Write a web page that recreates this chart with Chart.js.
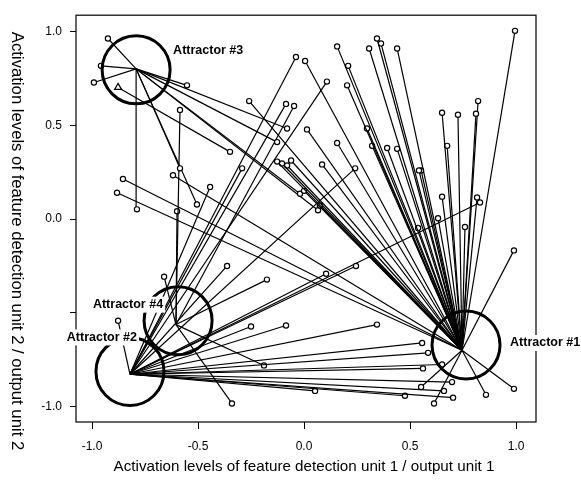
<!DOCTYPE html>
<html>
<head>
<meta charset="utf-8">
<script src="https://cdn.jsdelivr.net/npm/chart.js@4"></script>
<style>
  body { margin: 0; background: #fff; }
  #wrap { width: 581px; height: 487px; }
</style>
</head>
<body>
<div id="wrap"><canvas id="myChart" width="581" height="487"></canvas></div>
<script>
// tick values and labels
var xTicks = [-1, -0.5, 0, 0.5, 1];
var xTickLabels = ["-1.0", "-0.5", "0.0", "0.5", "1.0"];
var yTicks = [-1, -0.5, 0, 0.5, 1];
var yTickLabels = ["-1.0", "", "0.0", "0.5", "1.0"];

// attractors (#1..#4): end point of the trajectories and circle centre
var attractorNames = ["Attractor #1", "Attractor #2", "Attractor #3", "Attractor #4"];
var attractorX = [0.745, -0.821, -0.792, -0.604];
var attractorY = [-0.70, -0.828, 0.802, -0.563];
var circleX = [0.764, -0.821, -0.792, -0.594];
var circleY = [-0.672, -0.813, 0.797, -0.542];

// start points of the trajectories, per attractor
var startsA1 = [
    [0.005, 0.844], [0.156, 0.922], [0.208, 0.818], [0.203, 0.714], [0.307, 0.911],
    [0.344, 0.964], [0.363, 0.938], [0.439, 0.911], [0.995, 1.005], [0.651, 0.568],
    [0.726, 0.557], [0.811, 0.563], [0.821, 0.630], [0.675, 0.391],
    [0.014, 0.479], [0.156, 0.406], [0.297, 0.484], [0.321, 0.391], [0.392, 0.380],
    [0.439, 0.375], [0.542, 0.260], [0.552, 0.260], [-0.127, 0.307], [-0.104, 0.297],
    [-0.080, 0.286], [-0.061, 0.313], [0.085, 0.292], [0.0, 0.151], [0.075, 0.073],
    [0.651, 0.120], [0.816, 0.115], [0.632, 0.005], [0.759, -0.042], [0.99, -0.167],
    [0.538, -0.047], [-0.259, 0.630], [-0.854, 0.214], [-0.882, 0.141], [-0.618, 0.234],
    [0.552, -0.896], [0.613, -0.984], [0.858, -0.938], [0.99, -0.906]
];
var startsA2 = [
    [-0.038, 0.865], [0.108, 0.734], [-0.085, 0.615], [-0.292, 0.271], [0.241, 0.271],
    [-0.443, 0.172], [-0.363, -0.25], [0.104, -0.292], [0.245, -0.25], [0.830, 0.089],
    [-0.25, -0.573], [-0.085, -0.568], [0.344, -0.563], [0.557, -0.661], [0.585, -0.714],
    [0.561, -0.797], [0.651, -0.776], [0.698, -0.870], [0.660, -0.917], [0.703, -0.953],
    [0.476, -0.943], [0.052, -0.917], [-0.877, -0.542]
];
var startsA3 = [
    [-0.925, 0.964], [-0.958, 0.818], [-0.991, 0.729], [-0.552, 0.714], [-0.080, 0.484],
    [-0.127, 0.411], [-0.788, 0.052], [-0.585, 0.271], [-0.505, 0.078], [-0.019, 0.135],
    [0.066, 0.047]
];
var startsA4 = [
    [-0.585, 0.583], [-0.599, 0.042], [-0.660, -0.307], [-0.189, -0.781], [-0.340, -0.984],
    [-0.175, -0.323], [-0.047, 0.604]
];
var triangleX = -0.877, triangleY = 0.703;
var triangleStart = [-0.349, 0.359];

var allStarts = [startsA1, startsA2, startsA3, startsA4];

var datasets = [];

// attractor circles
datasets.push({
    data: circleX.map(function(x, i) { return {x: x, y: circleY[i]}; }),
    showLine: false,
    pointRadius: 34,
    pointBorderWidth: 3,
    pointBorderColor: "#000",
    pointBackgroundColor: "rgba(0,0,0,0)"
});

// trajectories
var $each = function(arr, fn) { for (var i = 0; i < arr.length; i++) fn(i, arr[i]); };
$each(allStarts, function(a, starts) {
    $each(starts, function(i, p) {
        datasets.push({
            data: [{x: p[0], y: p[1]}, {x: attractorX[a], y: attractorY[a]}],
            showLine: true,
            borderColor: "#000",
            borderWidth: 1.2,
            pointRadius: [2.6, 0],
            pointBorderWidth: 1.2,
            pointBorderColor: "#000",
            pointBackgroundColor: "#fff"
        });
    });
});

datasets.push({
    data: [{x: triangleStart[0], y: triangleStart[1]}, {x: triangleX, y: triangleY}],
    showLine: true,
    borderColor: "#000",
    borderWidth: 1.2,
    pointStyle: ["circle", "triangle"],
    pointRadius: [2.6, 4],
    pointBorderWidth: 1.2,
    pointBorderColor: "#000",
    pointBackgroundColor: "#fff"
});

var decor = {
    id: "decor",
    afterDraw: function(chart) {
        var ctx = chart.ctx, a = chart.chartArea;
        var xs = chart.scales.x, ys = chart.scales.y;
        ctx.save();
        ctx.strokeStyle = "#000";
        ctx.lineWidth = 1.2;
        ctx.strokeRect(a.left, a.top, a.right - a.left, a.bottom - a.top);

        // attractor labels
        ctx.font = "bold 12.5px 'Liberation Sans', Arial, sans-serif";
        ctx.textBaseline = "middle";
        var offs = [[44, -2, "left"], [7, -34, "right"], [37, -19, "left"], [-15, -16, "right"]];
        $each(attractorNames, function(i, name) {
            var px = xs.getPixelForValue(circleX[i]) + offs[i][0];
            var py = ys.getPixelForValue(circleY[i]) + offs[i][1];
            var w = ctx.measureText(name).width;
            var lx = offs[i][2] == "left" ? px : px - w;
            ctx.fillStyle = "#fff";
            ctx.fillRect(lx - 2, py - 8, w + 4, 16);
            ctx.fillStyle = "#000";
            ctx.textAlign = offs[i][2];
            ctx.fillText(name, px, py);
        });

        // axis titles
        ctx.font = "15.2px 'Liberation Sans', Arial, sans-serif";
        ctx.textAlign = "center";
        ctx.fillText("Activation levels of feature detection unit 1 / output unit 1", 304, 467);
        ctx.translate(17, 241);
        ctx.rotate(Math.PI / 2);
        ctx.font = "16.7px 'Liberation Sans', Arial, sans-serif";
        ctx.fillText("Activation levels of feature detection unit 2 / output unit 2", 0, 0);
        ctx.restore();
    }
};

var ctx = document.getElementById("myChart");
var myChart = new Chart(ctx, {
    type: "scatter",
    data: { datasets: datasets },
    options: {
        responsive: false,
        animation: false,
        devicePixelRatio: 1,
        layout: { autoPadding: false, padding: { top: 5, right: 45, left: 0, bottom: 0 } },
        plugins: { legend: { display: false }, tooltip: { enabled: false } },
        scales: {
            x: {
                type: "linear",
                min: -1.0755,
                max: 1.094,
                afterBuildTicks: function(s) { s.ticks = xTicks.map(function(v) { return {value: v}; }); },
                afterFit: function(s) { s.height = 65; },
                ticks: {
                    callback: function(v, i) { return xTickLabels[i]; },
                    color: "#000",
                    padding: 10,
                    maxRotation: 0,
                    font: { size: 12, family: "'Liberation Sans', Arial, sans-serif" }
                },
                grid: { drawOnChartArea: false, tickLength: 7, color: "#000" },
                border: { display: false }
            },
            y: {
                type: "linear",
                min: -1.083,
                max: 1.0885,
                afterBuildTicks: function(s) { s.ticks = yTicks.map(function(v) { return {value: v}; }); },
                afterFit: function(s) { s.width = 76; },
                ticks: {
                    callback: function(v, i) { return yTickLabels[i]; },
                    color: "#000",
                    padding: 8,
                    font: { size: 12, family: "'Liberation Sans', Arial, sans-serif" }
                },
                grid: { drawOnChartArea: false, tickLength: 6, color: "#000" },
                border: { display: false }
            }
        }
    },
    plugins: [decor]
});
</script>
</body>
</html>
